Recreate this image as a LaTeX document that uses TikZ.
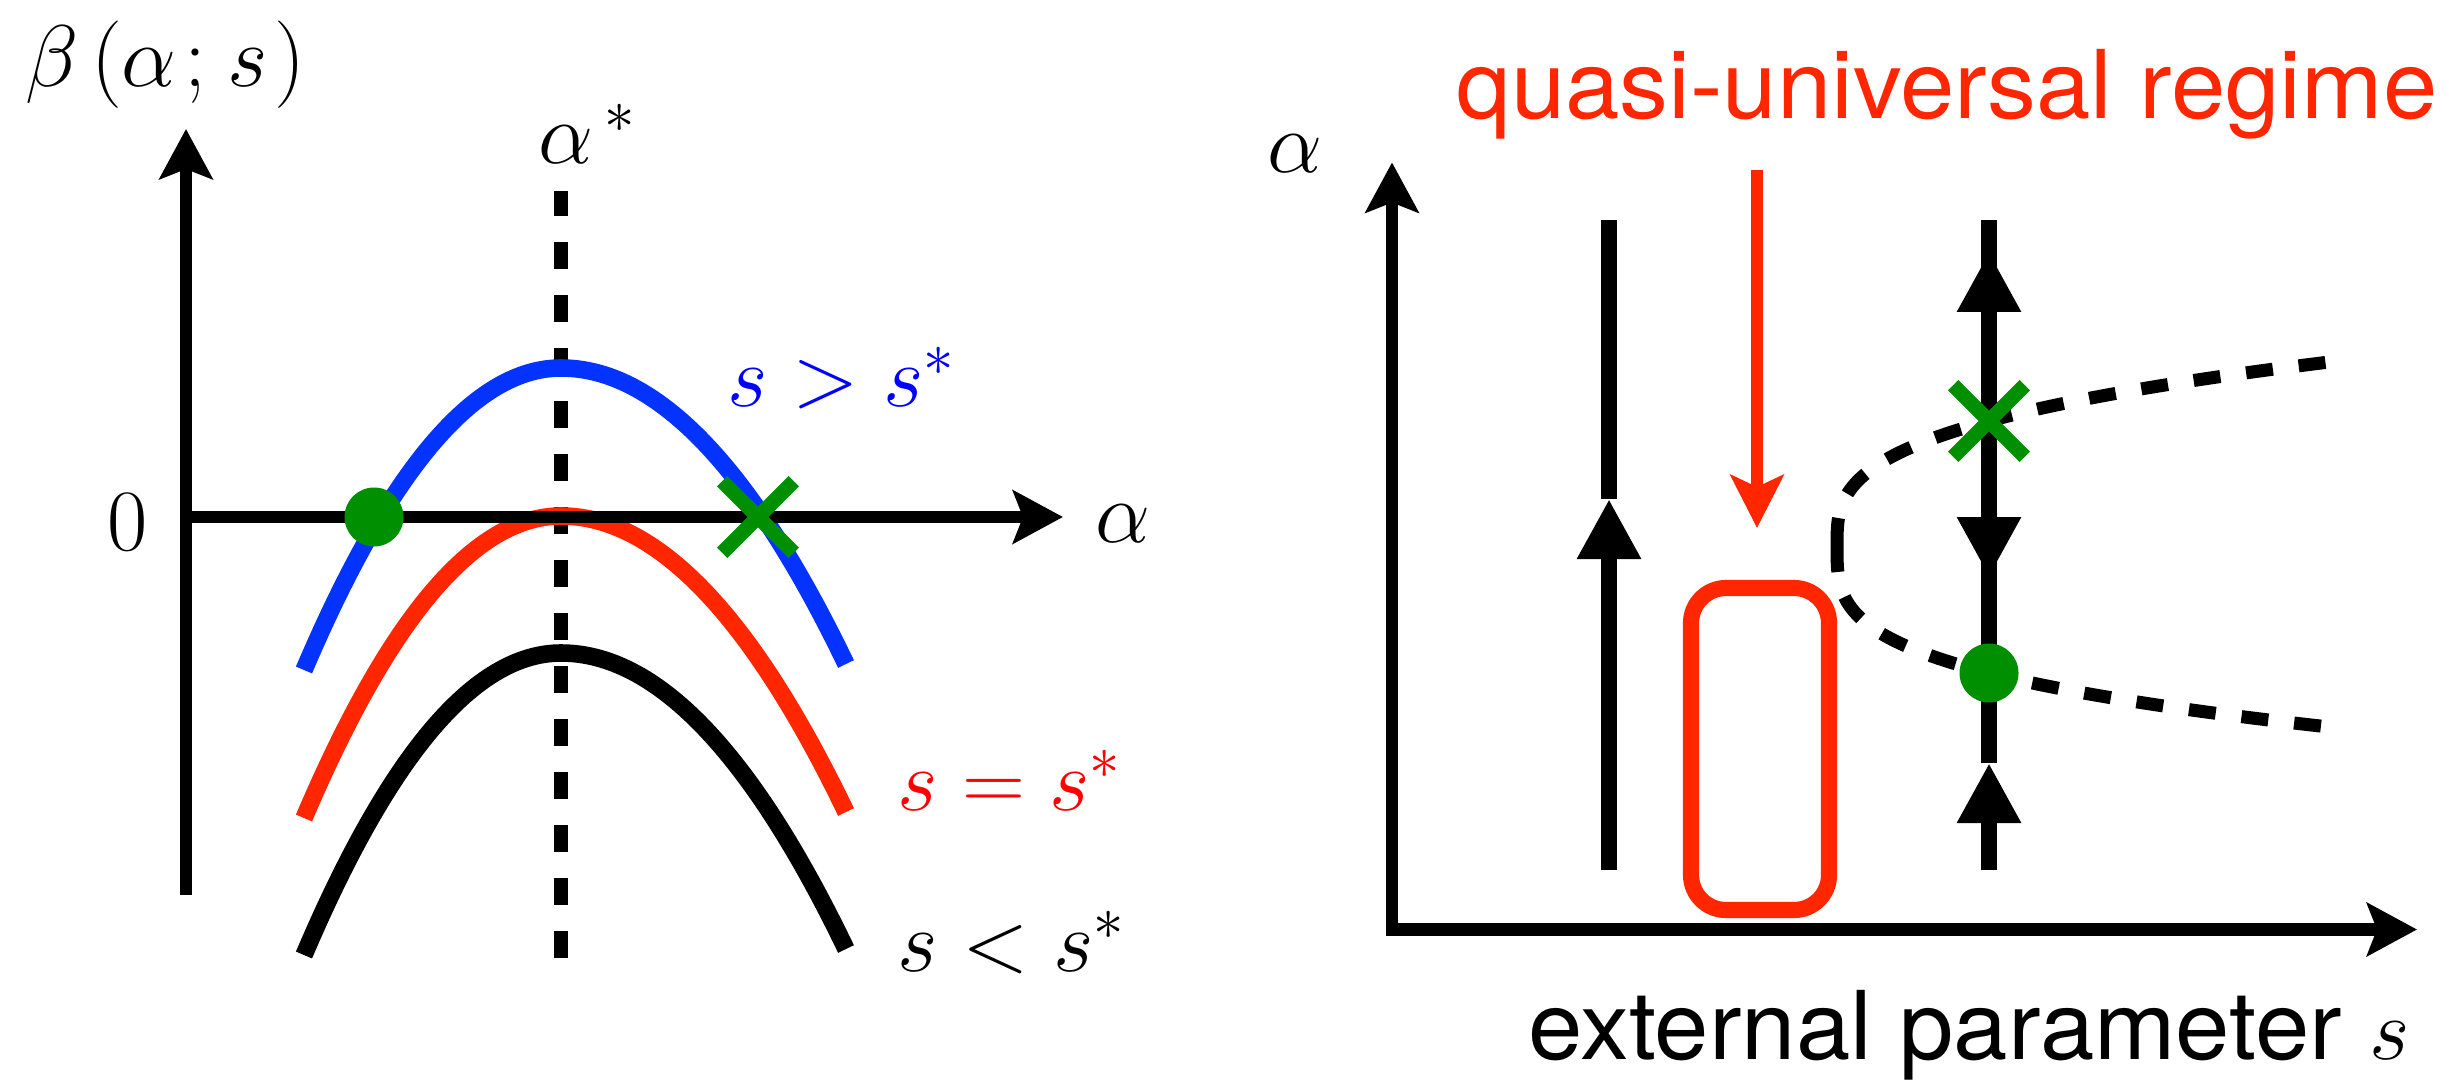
\documentclass[tikz,border=0pt]{standalone}
\usepackage{fontspec}
\newfontfamily\helvfont[FakeStretch=1.03]{TeX Gyre Heros}
\usetikzlibrary{arrows.meta,shapes.misc}
\definecolor{CurveBlue}{HTML}{0433FF}
\definecolor{CurveRed}{HTML}{FF2600}
\definecolor{FixGreen}{HTML}{008F00}
\definecolor{LabelBlue}{HTML}{0000FF}
\definecolor{LabelRed}{HTML}{FF0000}

\begin{document}
\begin{tikzpicture}[
  axisline/.style={line width=3.6pt, -{Stealth[length=0.5cm, width=0.53cm, inset=0.1cm]}},
  curve/.style={line width=5pt, color=#1},
  flowline/.style={line width=4.45pt},
  flowtip/.style={-{Triangle[length=0.6cm, width=0.6cm]}},
  sepline/.style={line width=#1, dash pattern=on 0.27cm off 0.26cm},
  lbl/.style={font=\fontsize{27}{32}\selectfont, inner sep=0pt},
  sanslbl/.style={font=\helvfont\fontsize{27}{32}\selectfont, inner sep=0pt},
  stablept/.style={circle, fill=FixGreen, minimum size=0.59cm, inner sep=0pt},
  unstablept/.style={cross out, draw=FixGreen, line width=4.15pt,
                     minimum size=0.57cm, inner sep=0pt}
]
\useasboundingbox (0,0) rectangle (24.49,10.79);

% ---------- left panel: beta(alpha; s) ----------
\node[lbl, anchor=base west] (betalbl) at (0.25,9.92)
  {$\beta\mkern2.5mu(\alpha\mkern1.5mu;\mkern1.5mu s\mkern1.2mu)$};
\node[lbl, anchor=base west] (astarlbl) at (5.38,9.15) {$\alpha^{\kern3pt *}$};
\node[lbl, anchor=base] (zerolbl) at (1.28,5.29) {$0$};
\node[lbl, anchor=base west] (albl) at (10.95,5.37) {$\alpha$};

% alpha* line
\coordinate (astarb) at (5.61,1.21);
\coordinate (astart) at (5.61,8.88);
\draw[sepline=4pt] (astarb) -- (astart);

% curves for s > s*, s = s*, s < s*
\foreach \col/\top in {CurveBlue/7.11, CurveRed/5.63, black/4.26}
  \draw[curve=\col] (3.04,\top-3.02) .. controls (3.897,\top-1.007) and (4.753,\top) ..
    (5.61,\top) .. controls (6.56,\top) and (7.51,\top-0.987) .. (8.46,\top-2.96);

\node[lbl, anchor=base west, text=LabelBlue] (gtlbl) at (7.27,6.72) {$s>s^*$};
\node[lbl, anchor=base west, text=LabelRed] (eqlbl) at (8.97,2.69) {$s=s^*$};
\node[lbl, anchor=base west] (ltlbl) at (8.97,1.08) {$s<s^*$};

% axes
\coordinate (lorig) at (1.86,5.62);
\draw[axisline] (1.86,1.84) -- (1.86,9.50);
\draw[axisline] (lorig) -- (10.63,5.62);

% fixed points
\node[stablept] (lstable) at (3.74,5.62) {};
\node[unstablept] (lunstable) at (7.58,5.62) {};

% ---------- right panel: flow in (s, alpha) ----------
\node[lbl, anchor=base west] (ralbl) at (12.67,9.06) {$\alpha$};
\node[sanslbl, anchor=base east, text=CurveRed] (qlbl) at (24.38,9.60) {quasi-universal regime};
\node[sanslbl, anchor=base east] (slbl) at (24.10,0.195) {external parameter $s$};

% axes
\coordinate (rorig) at (13.92,1.495);
\draw[axisline, {Stealth[length=0.5cm, width=0.53cm, inset=0.1cm]}-{Stealth[length=0.5cm, width=0.53cm, inset=0.1cm]}]
  (13.92,9.165) -- (rorig) -- (24.17,1.495);

% fixed-point branches
\draw[sepline=3.7pt] plot[smooth, samples=40, domain=0:1.83]
  ({18.37+pow(\x/1.0795,3.02)}, {5.34+\x});
\draw[sepline=3.7pt] plot[smooth, samples=40, domain=0:1.82]
  ({18.37+pow(\x/1.129,3.337)}, {5.34-\x});

% flow line without fixed points
\coordinate (l1b) at (16.09,2.09);
\coordinate (l1m) at (16.09,5.80);
\coordinate (l1t) at (16.09,8.59);
\draw[flowline, flowtip] (l1b) -- (l1m);
\draw[flowline] (l1m) -- (l1t);

% flow line with two fixed points
\coordinate (l2b) at (19.89,2.09);
\coordinate (l2m) at (19.89,3.16);
\coordinate (l2d) at (19.89,5.02);
\coordinate (l2u) at (19.89,8.27);
\coordinate (l2t) at (19.89,8.59);
\draw[flowline, flowtip] (l2b) -- (l2m);
\draw[flowline] (l2m) -- (l2d);
\draw[flowline, flowtip] (l2u) -- (l2d);
\draw[flowline, flowtip] (l2d) -- (l2u);
\draw[flowline] (l2u) -- (l2t);

\node[unstablept] (runstable) at (19.89,6.58) {};
\node[stablept] (rstable) at (19.89,4.06) {};

% quasi-universal regime
\node[draw=CurveRed, line width=4.6pt, rounded corners=0.35cm, minimum width=1.38cm,
      minimum height=3.22cm, inner sep=0pt] (qbox) at (17.60,3.30) {};
\coordinate (qtop) at (17.57,9.09);
\coordinate (qtip) at (17.57,5.51);
\draw[line width=3.5pt, CurveRed, -{Stealth[length=0.53cm, width=0.53cm, inset=0.12cm]}] (qtop) -- (qtip);

\end{tikzpicture}
\end{document}
